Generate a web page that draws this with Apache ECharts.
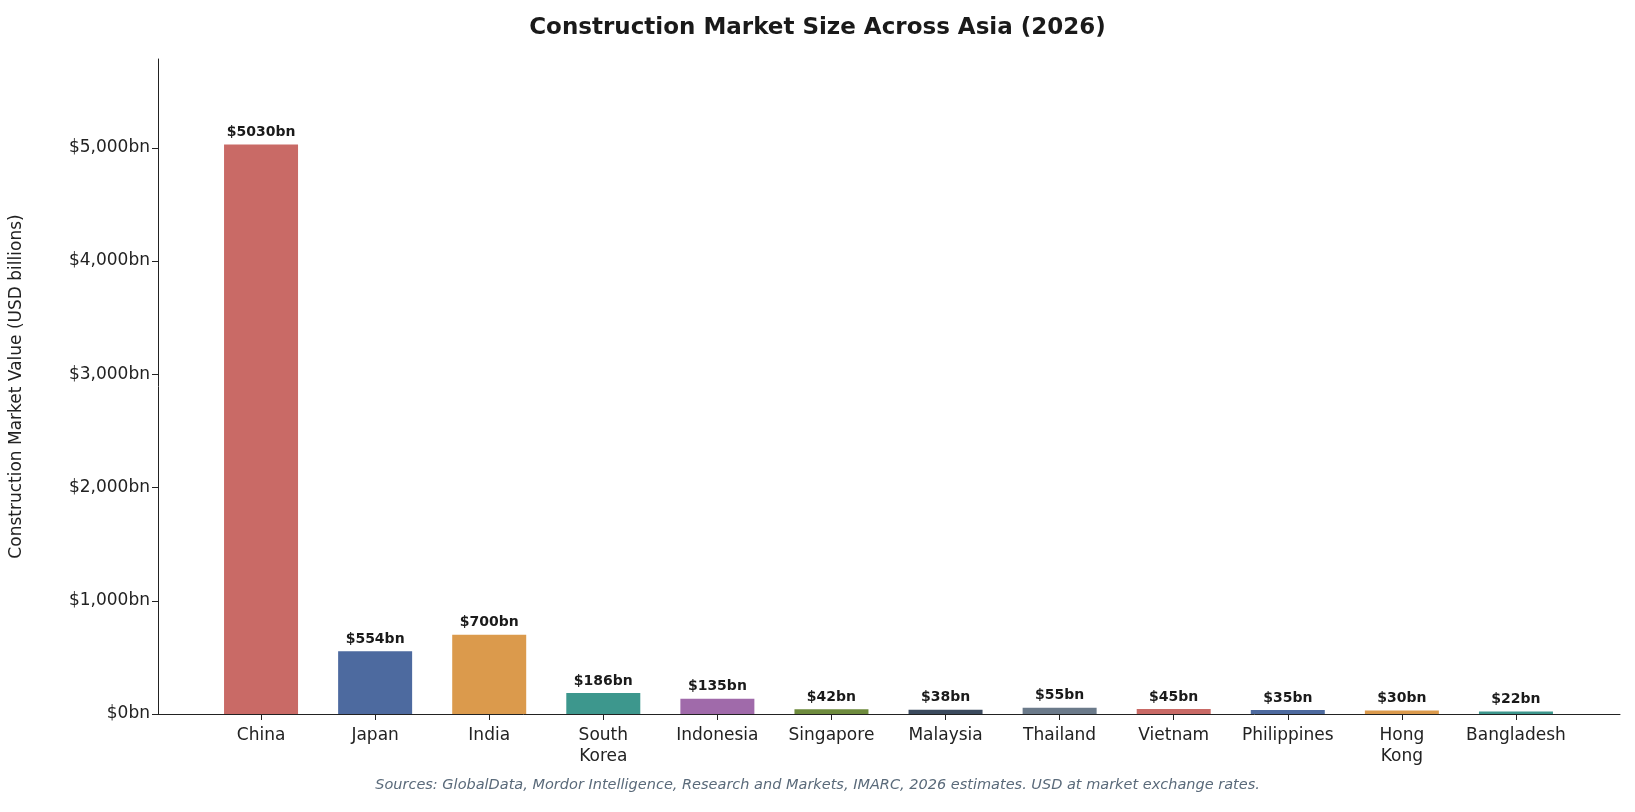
<!DOCTYPE html><html><head><meta charset="utf-8"><script src="https://cdn.jsdelivr.net/npm/echarts@6/dist/echarts.min.js"></script></head><body style="margin:0"><div id="c" style="width:1635px;height:812px"></div><script>
const categories=['China','Japan','India','South\nKorea','Indonesia','Singapore','Malaysia','Thailand','Vietnam','Philippines','Hong\nKong','Bangladesh'];
const values=[5030,554,700,186,135,42,38,55,45,35,30,22];
const colors=['#c96a66','#4d6a9f','#db9a4c','#3d978d','#a06aaa','#6e8b3d','#3b4a5e','#6b7a8a','#c96a66','#4d6a9f','#db9a4c','#3d978d'];
const yTicks=[0,1000,2000,3000,4000,5000];
const f='DejaVu Sans';
const c=echarts.init(document.getElementById('c'));
c.setOption({
title:{text:'Construction Market Size Across Asia (2026)',left:'center',top:12,textStyle:{fontFamily:f,fontSize:23,fontWeight:'bold',color:'#1a1a1a'}},
graphic:[{type:'text',left:'center',top:778,style:{text:'Sources: GlobalData, Mordor Intelligence, Research and Markets, IMARC, 2026 estimates. USD at market exchange rates.',font:'italic 14.5px DejaVu Sans',fill:'#5a6a7a'}}],
grid:[{left:156,right:15,top:59,bottom:98},{left:204,right:62,top:59,bottom:98}],
xAxis:[{gridIndex:0,type:'value',min:0,max:1,axisLine:{lineStyle:{color:'#222'}},axisTick:{show:false},axisLabel:{show:false},splitLine:{show:false}},
{gridIndex:1,type:'category',data:categories,axisLine:{show:false},axisTick:{show:true,alignWithLabel:true,lineStyle:{color:'#222'},length:6},axisLabel:{fontFamily:f,fontSize:17,color:'#222',lineHeight:21,margin:11,interval:0}}],
yAxis:[{gridIndex:0,type:'value',min:0,max:5784.5,interval:1000,name:'Construction Market Value (USD billions)',nameLocation:'middle',nameGap:133,nameTextStyle:{fontFamily:f,fontSize:17,color:'#222'},axisLine:{show:true,lineStyle:{color:'#222'}},axisTick:{show:true,length:6},splitLine:{show:false},axisLabel:{fontFamily:f,fontSize:17,color:'#222',margin:8,showMaxLabel:false,formatter:v=>yTicks.includes(v)?'$'+v.toLocaleString('en-US')+'bn':''}},
{gridIndex:1,type:'value',min:0,max:5784.5,show:false}],
series:[{type:'bar',xAxisIndex:1,yAxisIndex:1,barWidth:74,data:values.map((v,i)=>({value:v,itemStyle:{color:colors[i]}})),label:{show:true,position:'top',distance:5,formatter:p=>'$'+p.value+'bn',fontFamily:f,fontSize:14,fontWeight:'bold',color:'#1a1a1a'}}]
});
</script></body></html>
